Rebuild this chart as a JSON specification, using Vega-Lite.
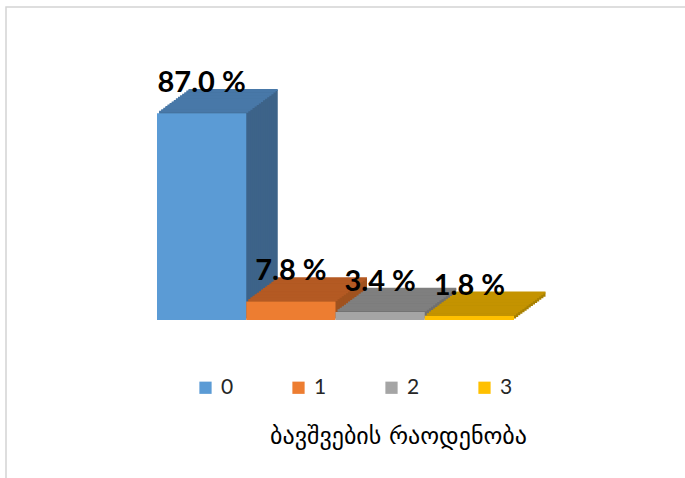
{
  "$schema": "https://vega.github.io/schema/vega-lite/v6.json",
  "autosize": "none",
  "padding": {"left": 6, "top": 7, "right": 0, "bottom": 0},
  "width": 682,
  "height": 474,
  "background": "white",
  "config": {"view": {"stroke": "#D4D4D4", "strokeWidth": 1.5},
    "legend": {"labelFont": "Lato", "labelFontSize": 21, "labelColor": "#262626", "labelOffset": 5}},
  "data": {"values": [
    {"cat": "0", "pct": 87.0, "label": "87.0 %"},
    {"cat": "1", "pct": 7.8, "label": "7.8 %"},
    {"cat": "2", "pct": 3.4, "label": "3.4 %"},
    {"cat": "3", "pct": 1.8, "label": "1.8 %"}
  ]},
  "encoding": {
    "x": {"field": "cat", "type": "nominal",
      "scale": {"domain": ["0", "1", "2", "3"], "range": [151, 508], "paddingInner": 0, "paddingOuter": 0},
      "axis": {"labels": false, "ticks": false, "domain": false, "grid": false,
        "title": "ბავშვების რაოდენობა", "titleFont": "DejaVu Sans", "titleFontSize": 24,
        "titleFontWeight": "normal", "titleColor": "#000000", "titleX": 392, "titleY": -38,
        "titleAlign": "center", "titleBaseline": "alphabetic", "titleAnchor": null}},
    "y": {"field": "pct", "type": "quantitative",
      "scale": {"domain": [0, 100], "range": [313, 75.4], "nice": false, "zero": true},
      "axis": null}
  },
  "layer": [
    {
      "encoding": {"color": {"field": "cat", "type": "nominal",
        "scale": {"domain": ["0", "1", "2", "3"], "range": ["#3D6389", "#A0521E", "#6F6F6F", "#A88000"]},
        "legend": null}},
      "layer": [
        {"mark": {"type": "bar", "xOffset": 31.5, "yOffset": -23.25}},
        {"mark": {"type": "bar", "xOffset": 29.4, "yOffset": -21.7}},
        {"mark": {"type": "bar", "xOffset": 27.3, "yOffset": -20.15}},
        {"mark": {"type": "bar", "xOffset": 25.2, "yOffset": -18.6}},
        {"mark": {"type": "bar", "xOffset": 23.1, "yOffset": -17.05}},
        {"mark": {"type": "bar", "xOffset": 21, "yOffset": -15.5}},
        {"mark": {"type": "bar", "xOffset": 18.9, "yOffset": -13.95}},
        {"mark": {"type": "bar", "xOffset": 16.8, "yOffset": -12.4}},
        {"mark": {"type": "bar", "xOffset": 14.7, "yOffset": -10.85}},
        {"mark": {"type": "bar", "xOffset": 12.6, "yOffset": -9.3}},
        {"mark": {"type": "bar", "xOffset": 10.5, "yOffset": -7.75}},
        {"mark": {"type": "bar", "xOffset": 8.4, "yOffset": -6.2}},
        {"mark": {"type": "bar", "xOffset": 6.3, "yOffset": -4.65}},
        {"mark": {"type": "bar", "xOffset": 4.2, "yOffset": -3.1}},
        {"mark": {"type": "bar", "xOffset": 2.1, "yOffset": -1.55}}
      ]
    },
    {
      "encoding": {"color": {"field": "cat", "type": "nominal",
        "scale": {"domain": ["0", "1", "2", "3"], "range": ["#4878A8", "#B45A23", "#7F7F7F", "#C49300"]},
        "legend": null}},
      "layer": [
        {"mark": {"type": "tick", "size": 89.25, "thickness": 2, "opacity": 1, "xOffset": 31.5, "yOffset": -23.25}},
        {"mark": {"type": "tick", "size": 89.25, "thickness": 2, "opacity": 1, "xOffset": 29.4, "yOffset": -21.7}},
        {"mark": {"type": "tick", "size": 89.25, "thickness": 2, "opacity": 1, "xOffset": 27.3, "yOffset": -20.15}},
        {"mark": {"type": "tick", "size": 89.25, "thickness": 2, "opacity": 1, "xOffset": 25.2, "yOffset": -18.6}},
        {"mark": {"type": "tick", "size": 89.25, "thickness": 2, "opacity": 1, "xOffset": 23.1, "yOffset": -17.05}},
        {"mark": {"type": "tick", "size": 89.25, "thickness": 2, "opacity": 1, "xOffset": 21, "yOffset": -15.5}},
        {"mark": {"type": "tick", "size": 89.25, "thickness": 2, "opacity": 1, "xOffset": 18.9, "yOffset": -13.95}},
        {"mark": {"type": "tick", "size": 89.25, "thickness": 2, "opacity": 1, "xOffset": 16.8, "yOffset": -12.4}},
        {"mark": {"type": "tick", "size": 89.25, "thickness": 2, "opacity": 1, "xOffset": 14.7, "yOffset": -10.85}},
        {"mark": {"type": "tick", "size": 89.25, "thickness": 2, "opacity": 1, "xOffset": 12.6, "yOffset": -9.3}},
        {"mark": {"type": "tick", "size": 89.25, "thickness": 2, "opacity": 1, "xOffset": 10.5, "yOffset": -7.75}},
        {"mark": {"type": "tick", "size": 89.25, "thickness": 2, "opacity": 1, "xOffset": 8.4, "yOffset": -6.2}},
        {"mark": {"type": "tick", "size": 89.25, "thickness": 2, "opacity": 1, "xOffset": 6.3, "yOffset": -4.65}},
        {"mark": {"type": "tick", "size": 89.25, "thickness": 2, "opacity": 1, "xOffset": 4.2, "yOffset": -3.1}},
        {"mark": {"type": "tick", "size": 89.25, "thickness": 2, "opacity": 1, "xOffset": 2.1, "yOffset": -1.55}}
      ]
    },
    {
      "mark": {"type": "bar"},
      "encoding": {"color": {"field": "cat", "type": "nominal",
        "scale": {"domain": ["0", "1", "2", "3"], "range": ["#5B9BD5", "#ED7D31", "#A5A5A5", "#FFC000"]},
        "legend": {"orient": "none", "legendX": 189, "legendY": 370, "direction": "horizontal",
          "columns": 4, "gridAlign": "all", "columnPadding": 54, "symbolType": "square",
          "symbolSize": 150, "symbolStrokeWidth": 0, "labelFont": "Lato", "labelFontSize": 21,
          "labelColor": "#262626", "labelOffset": 5, "title": null, "padding": 0}}}
    },
    {
      "mark": {"type": "text", "font": "Lato", "fontSize": 29, "fontWeight": "bold",
        "color": "#000000", "baseline": "alphabetic", "align": "center", "yOffset": -21},
      "encoding": {"text": {"field": "label", "type": "nominal"}}
    }
  ],
  "resolve": {"scale": {"color": "independent"}}
}
